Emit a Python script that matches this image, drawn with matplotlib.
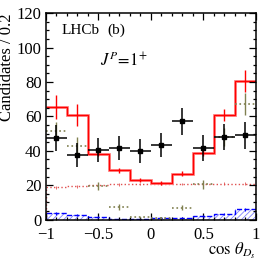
import numpy as np
import matplotlib.pyplot as plt
from matplotlib.ticker import MultipleLocator

plt.rcParams["font.family"] = ["Liberation Serif", "DejaVu Serif"]
plt.rcParams["mathtext.fontset"] = "stix"
plt.rcParams["hatch.linewidth"] = 0.6

# bin edges of cos(theta_Ds)
edges = np.linspace(-1, 1, 11)
centers = 0.5 * (edges[:-1] + edges[1:])

# data points
data = [47.3, 37.3, 40.4, 41.5, 39.7, 43.2, 57.0, 41.4, 48.0, 49.0]
data_err = [7.5, 7.0, 7.2, 7.0, 7.0, 7.0, 7.7, 7.5, 7.5, 7.8]

# total fit (red)
total = [65.5, 60.8, 38.3, 28.6, 23.0, 21.0, 26.6, 38.9, 60.8, 80.7]
total_err = [7.0, 6.4, 1.5, 1.5, 1.2, 1.2, 1.5, 1.8, 3.5, 6.5]

# olive dotted component
olive = [51.5, 42.8, 19.5, 7.3, 1.2, 0.8, 6.9, 20.5, 48.0, 67.0]
olive_err = [5.0, 5.0, 2.5, 1.5, 0.5, 0.5, 1.5, 2.5, 5.0, 6.5]

# pink dotted background
pink = [18.8, 19.4, 19.9, 20.4, 20.6, 20.7, 20.7, 20.8, 20.8, 20.9]
pink_err = [0.8, 0.8, 0.8, 0.8, 0.8, 0.8, 0.8, 0.8, 0.8, 0.8]

# blue hatched background
blue = [3.6, 2.6, 1.3, 0.3, 0.3, 0.7, 1.0, 2.2, 3.2, 6.1]
blue_err = [0.8, 0.6, 0.5, 0.3, 0.3, 0.3, 0.4, 0.5, 0.6, 0.9]

fig = plt.figure(figsize=(2.7, 2.62), dpi=100)
ax = fig.add_axes([0.170, 0.162, 0.778, 0.788])

# blue hatched
ax.stairs(blue, edges, fill=True, facecolor="none", edgecolor="#8080ff",
          hatch="//////", linewidth=0)
ax.stairs(blue, edges, color="blue", linestyle="--", linewidth=1.0)
ax.errorbar(centers, blue, yerr=blue_err, fmt="none", ecolor="blue", elinewidth=0.8)

# pink dotted
ax.stairs(pink, edges, color="#e05050", linestyle=":", linewidth=1.0)
ax.errorbar(centers, pink, yerr=pink_err, fmt="none", ecolor="#e05050", elinewidth=0.6)

# olive dotted
ax.hlines(olive, edges[:-1], edges[1:], colors="#808050", linestyles=":", linewidth=1.2)
ax.errorbar(centers, olive, yerr=olive_err, fmt="none", ecolor="#808050",
            elinewidth=1.0, linestyle=":")

# total fit
ax.stairs(total, edges, color="#ff8080", linewidth=2.0, baseline=None)
ax.stairs(total, edges, color="red", linewidth=0.9, baseline=None)
ax.errorbar(centers, total, yerr=total_err, fmt="none", ecolor="red", elinewidth=1.0)

# data
ax.errorbar(centers, data, xerr=0.1, yerr=data_err, fmt="s", color="black",
            markersize=2.5, elinewidth=1.1, capsize=0)

ax.set_xlim(-1, 1)
ax.set_ylim(0, 120)
ax.set_xticks([-1, -0.5, 0, 0.5, 1])
ax.set_xticklabels(["\u22121", "\u22120.5", "0", "0.5", "1"])
ax.xaxis.set_minor_locator(MultipleLocator(0.1))
ax.yaxis.set_major_locator(MultipleLocator(20))
ax.yaxis.set_minor_locator(MultipleLocator(5))
ax.tick_params(which="both", direction="in", top=True, right=True, labelsize=12, width=0.9)
ax.tick_params(which="major", length=5)
ax.tick_params(which="minor", length=2.5)
ax.tick_params(axis="x", pad=5.5)
ax.tick_params(axis="y", pad=3)
for s in ax.spines.values():
    s.set_linewidth(1.1)

ax.set_ylabel("Candidates / 0.2", fontsize=12, ha="right")
ax.yaxis.set_label_coords(-0.145, 1.0)
ax.set_xlabel(r"$\cos\,\theta_{D_s}$", fontsize=12, ha="right", va="top")
ax.xaxis.set_label_coords(1.0, -0.105)

ax.text(0.074, 0.918, "LHCb", transform=ax.transAxes, fontsize=11, va="center")
ax.text(0.295, 0.918, "(b)", transform=ax.transAxes, fontsize=11, va="center")
ax.text(0.257, 0.772, r"$J^P\!=\!1^{+}$", transform=ax.transAxes, fontsize=12, va="center")

fig.savefig("out.png", dpi=100)
